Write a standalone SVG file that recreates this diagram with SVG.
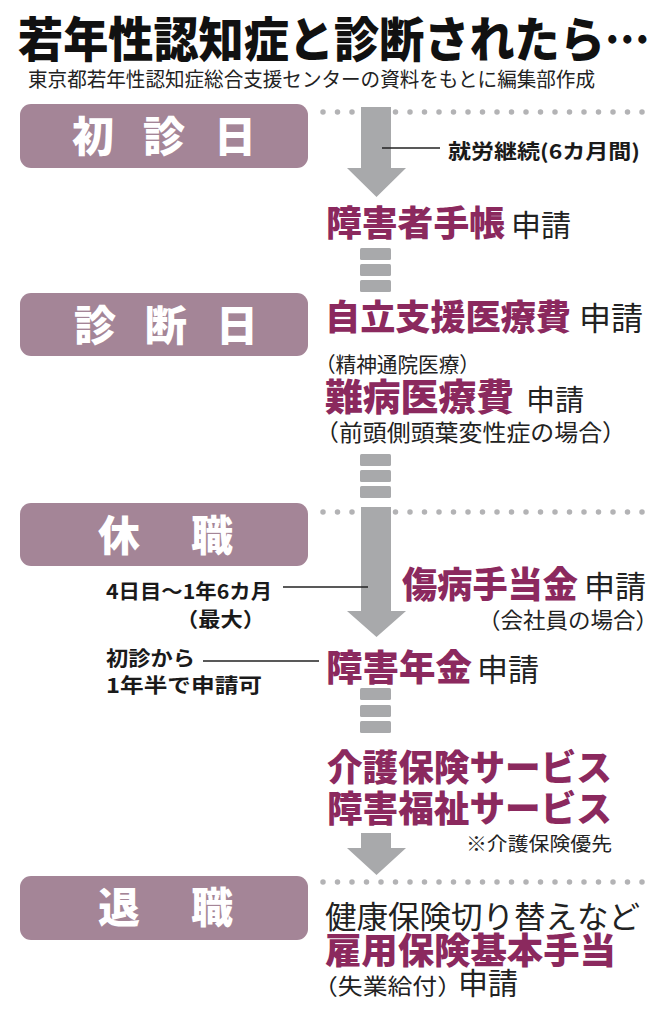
<svg xmlns="http://www.w3.org/2000/svg" width="671" height="1024" viewBox="0 0 671 1024">
<style>
text{font-family:"Noto Sans CJK JP","Noto Sans",sans-serif;}
.title{font-size:48px;font-weight:900;fill:#111;}
.sub{font-size:20px;fill:#222;}
.box{fill:#a48597;}
.btxt{font-size:42px;font-weight:900;fill:#fff;text-anchor:middle;}
.mag{font-weight:900;fill:#8b295e;}
.reg{fill:#222;}
.bk{font-weight:700;fill:#1a1a1a;font-size:20px;}
.arrow{fill:#a8a9ab;}
.bar{fill:#a8a9ab;}
.dots{stroke:#b3b3b5;stroke-width:5.5;stroke-linecap:round;stroke-dasharray:0 14.5;fill:none;}
.lead{stroke:#222;stroke-width:1.4;fill:none;}
</style>

<g id="header">
<text class="title" x="18" y="57" textLength="632" lengthAdjust="spacingAndGlyphs">若年性認知症と診断されたら…</text>
<text class="sub" x="28" y="87" textLength="567" lengthAdjust="spacingAndGlyphs">東京都若年性認知症総合支援センターの資料をもとに編集部作成</text>
</g>

<g id="connectors">
<line class="dots" x1="323" y1="112" x2="651" y2="112"/>
<line class="dots" x1="323" y1="512" x2="651" y2="512"/>
<line class="dots" x1="323" y1="882" x2="651" y2="882"/>
<polygon class="arrow" points="361,107 391,107 391,168 406,168 376.5,197 347,168 361,168"/>
<polygon class="arrow" points="361,507 391,507 391,611 406,611 376.5,637 347,611 361,611"/>
<polygon class="arrow" points="361,833 391,833 391,848 406,848 376.5,875 347,848 361,848"/>
<rect class="bar" x="360" y="248" width="31" height="12" rx="1.5"/>
<rect class="bar" x="360" y="264" width="31" height="12" rx="1.5"/>
<rect class="bar" x="360" y="280" width="31" height="12" rx="1.5"/>
<rect class="bar" x="360" y="454" width="31" height="12" rx="1.5"/>
<rect class="bar" x="360" y="470" width="31" height="12" rx="1.5"/>
<rect class="bar" x="360" y="486" width="31" height="12" rx="1.5"/>
<rect class="bar" x="360" y="688" width="31" height="12" rx="1.5"/>
<rect class="bar" x="360" y="705" width="31" height="12" rx="1.5"/>
<rect class="bar" x="360" y="721" width="31" height="12" rx="1.5"/>
<line class="lead" x1="382" y1="148" x2="440" y2="148"/>
<line class="lead" x1="283" y1="587" x2="368" y2="587"/>
<line class="lead" x1="203" y1="661" x2="319" y2="661"/>
</g>

<g id="stage-shoshin">
<rect class="box" x="20" y="104" width="288" height="64" rx="11"/>
<text class="btxt" y="152"><tspan x="93">初</tspan><tspan x="164">診</tspan><tspan x="235">日</tspan></text>
</g>
<g id="stage-shindan">
<rect class="box" x="20" y="293" width="288" height="63" rx="11"/>
<text class="btxt" y="341"><tspan x="95">診</tspan><tspan x="166">断</tspan><tspan x="237">日</tspan></text>
</g>
<g id="stage-kyushoku">
<rect class="box" x="20" y="503" width="288" height="63" rx="11"/>
<text class="btxt" y="551"><tspan x="119">休</tspan><tspan x="212">職</tspan></text>
</g>
<g id="stage-taishoku">
<rect class="box" x="20" y="876" width="288" height="64" rx="11"/>
<text class="btxt" y="923"><tspan x="119">退</tspan><tspan x="212">職</tspan></text>
</g>

<g id="note-shuro">
<text class="bk" x="448" y="159" font-size="21" textLength="192" lengthAdjust="spacingAndGlyphs">就労継続(6カ月間)</text>
</g>

<g id="item-techo">
<text class="mag" x="326" y="236" font-size="35" textLength="179" lengthAdjust="spacingAndGlyphs">障害者手帳</text>
<text class="reg" x="511" y="236" font-size="30">申請</text>
</g>

<g id="item-jiritsu">
<text class="mag" x="325" y="330" font-size="35" textLength="246" lengthAdjust="spacingAndGlyphs">自立支援医療費</text>
<text class="reg" x="579" y="330" font-size="32">申請</text>
<text class="reg" x="315" y="372" font-size="21" textLength="165" lengthAdjust="spacingAndGlyphs">（精神通院医療）</text>
</g>

<g id="item-nanbyo">
<text class="mag" x="325" y="411" font-size="37" textLength="189" lengthAdjust="spacingAndGlyphs">難病医療費</text>
<text class="reg" x="526" y="411" font-size="29">申請</text>
<text class="reg" x="315" y="441" font-size="23" textLength="311" lengthAdjust="spacingAndGlyphs">（前頭側頭葉変性症の場合）</text>
</g>

<g id="item-shobyo">
<text class="mag" x="402" y="598" font-size="36" textLength="176" lengthAdjust="spacingAndGlyphs">傷病手当金</text>
<text class="reg" x="584" y="598" font-size="31">申請</text>
<text class="reg" x="478" y="628" font-size="22" textLength="180" lengthAdjust="spacingAndGlyphs">（会社員の場合）</text>
</g>

<g id="note-shobyo">
<text class="bk" x="106" y="599" textLength="166" lengthAdjust="spacingAndGlyphs">4日目〜1年6カ月</text>
<text class="bk" x="176" y="627" font-size="21" textLength="89" lengthAdjust="spacingAndGlyphs">（最大）</text>
</g>

<g id="item-nenkin">
<text class="mag" x="326" y="681" font-size="36" textLength="146" lengthAdjust="spacingAndGlyphs">障害年金</text>
<text class="reg" x="477" y="681" font-size="31">申請</text>
</g>

<g id="note-nenkin">
<text class="bk" x="106" y="666" textLength="89" lengthAdjust="spacingAndGlyphs">初診から</text>
<text class="bk" x="106" y="693" textLength="156" lengthAdjust="spacingAndGlyphs">1年半で申請可</text>
</g>

<g id="item-service">
<text class="mag" x="327" y="781" font-size="36" textLength="285" lengthAdjust="spacingAndGlyphs">介護保険サービス</text>
<text class="mag" x="327" y="822" font-size="36" textLength="285" lengthAdjust="spacingAndGlyphs">障害福祉サービス</text>
<text class="reg" x="466" y="851" font-size="19" textLength="146" lengthAdjust="spacingAndGlyphs">※介護保険優先</text>
</g>

<g id="item-taishoku">
<text class="reg" x="325" y="928" font-size="31" textLength="315" lengthAdjust="spacingAndGlyphs">健康保険切り替えなど</text>
<text class="mag" x="325" y="964" font-size="36" textLength="291" lengthAdjust="spacingAndGlyphs">雇用保険基本手当</text>
<text class="reg" x="313" y="994" font-size="22" textLength="149" lengthAdjust="spacingAndGlyphs">（失業給付）</text>
<text class="reg" x="458" y="994" font-size="30">申請</text>
</g>
</svg>
